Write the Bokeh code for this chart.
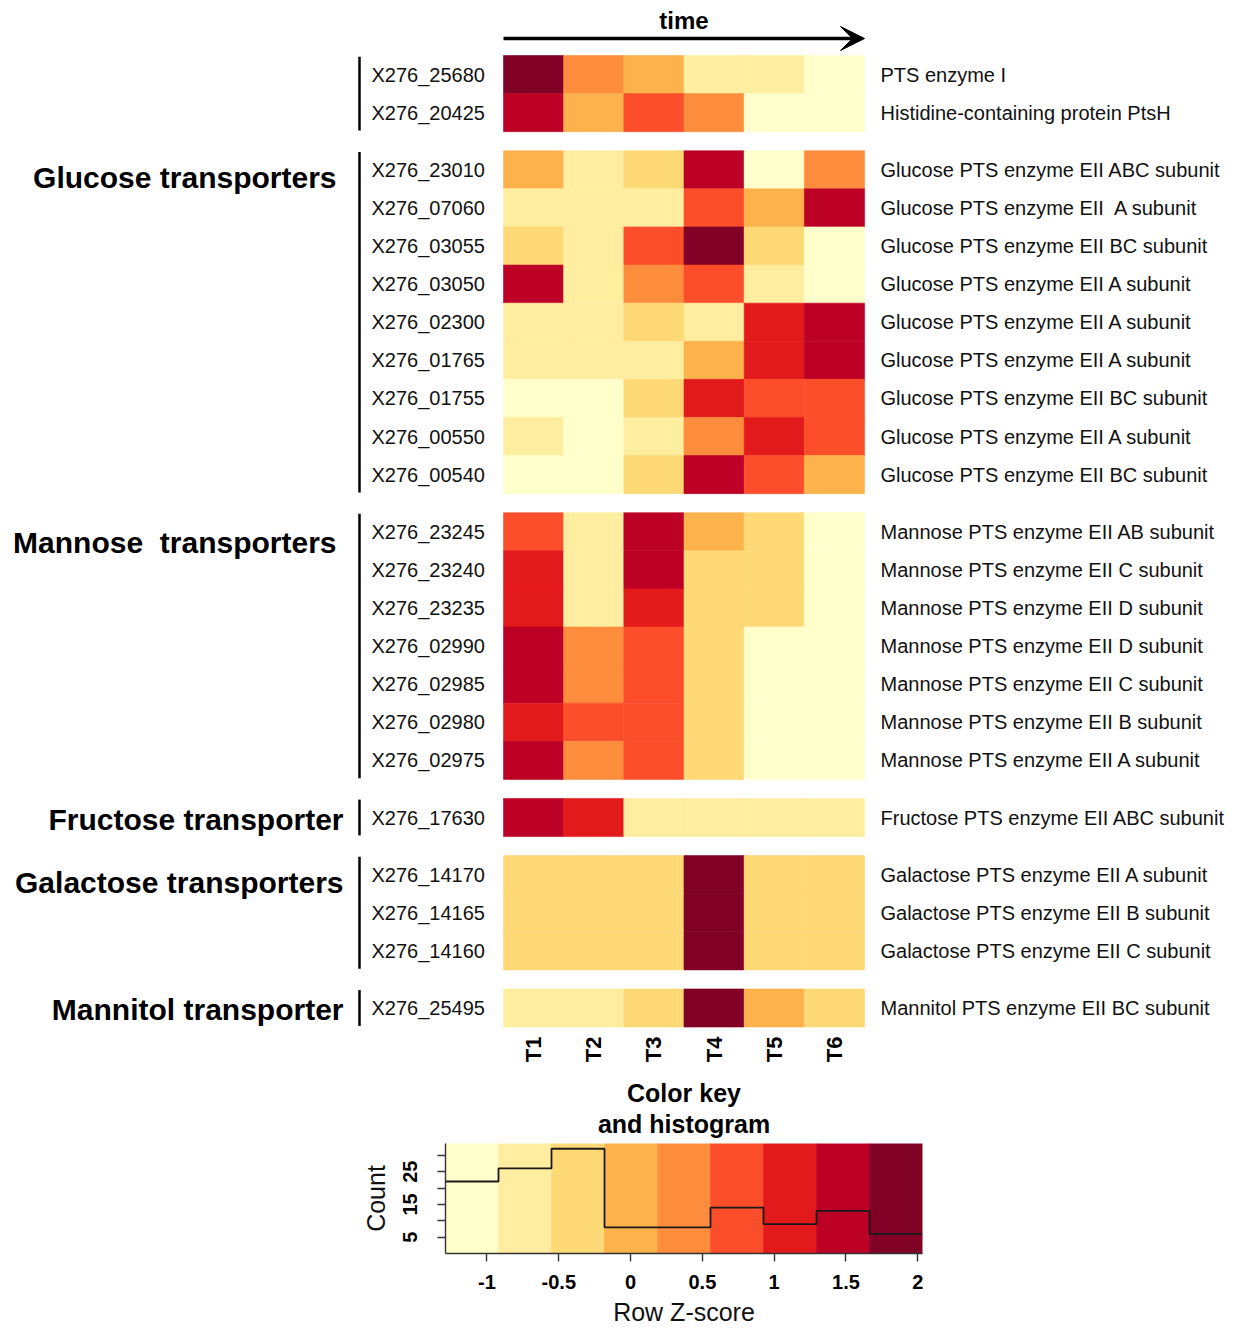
import numpy as np
from bokeh.plotting import figure
from bokeh.models import Range1d, Arrow, VeeHead, FixedTicker, CustomJSTickFormatter, ColumnDataSource
from bokeh.transform import linear_cmap
from bokeh.palettes import YlOrRd
from bokeh.embed import file_html
from bokeh.resources import INLINE
from bokeh.core.properties import value

FONT = value("Liberation Sans")

# ---------------- data ----------------
time_points = ["T1", "T2", "T3", "T4", "T5", "T6"]
group_labels = ["", "Glucose transporters", "Mannose\u00a0 transporters",
                "Fructose transporter", "Galactose transporters", "Mannitol transporter"]

ids_pts = ["X276_25680", "X276_20425"]
ann_pts = ["PTS enzyme I", "Histidine-containing protein PtsH"]
z_pts = [[1.85, 0.38, 0.02, -0.72, -0.78, -1.12],
         [1.48, 0.01, 0.76, 0.39, -1.10, -1.12]]

ids_glucose = ["X276_23010", "X276_07060", "X276_03055", "X276_03050", "X276_02300",
               "X276_01765", "X276_01755", "X276_00550", "X276_00540"]
ann_glucose = ["Glucose PTS enzyme EII ABC subunit", "Glucose PTS enzyme EII\u00a0 A subunit",
               "Glucose PTS enzyme EII BC subunit", "Glucose PTS enzyme EII A subunit",
               "Glucose PTS enzyme EII A subunit", "Glucose PTS enzyme EII A subunit",
               "Glucose PTS enzyme EII BC subunit", "Glucose PTS enzyme EII A subunit",
               "Glucose PTS enzyme EII BC subunit"]
z_glucose = [[0.00, -0.74, -0.38, 1.50, -1.10, 0.40],
             [-0.74, -0.76, -0.72, 0.78, 0.02, 1.46],
             [-0.36, -0.74, 0.74, 1.86, -0.40, -1.10],
             [1.50, -0.76, 0.38, 0.74, -0.74, -1.12],
             [-0.75, -0.77, -0.38, -0.72, 1.12, 1.48],
             [-0.78, -0.76, -0.74, 0.02, 1.10, 1.50],
             [-1.12, -1.10, -0.36, 1.12, 0.76, 0.74],
             [-0.74, -1.10, -0.72, 0.40, 1.12, 0.78],
             [-1.12, -1.10, -0.36, 1.50, 0.74, 0.02]]

ids_mannose = ["X276_23245", "X276_23240", "X276_23235", "X276_02990", "X276_02985",
               "X276_02980", "X276_02975"]
ann_mannose = ["Mannose PTS enzyme EII AB subunit", "Mannose PTS enzyme EII C subunit",
               "Mannose PTS enzyme EII D subunit", "Mannose PTS enzyme EII D subunit",
               "Mannose PTS enzyme EII C subunit", "Mannose PTS enzyme EII B subunit",
               "Mannose PTS enzyme EII A subunit"]
z_mannose = [[0.76, -0.74, 1.48, 0.02, -0.38, -1.12],
             [1.10, -0.76, 1.46, -0.36, -0.38, -1.10],
             [1.12, -0.74, 1.10, -0.38, -0.36, -1.12],
             [1.48, 0.38, 0.76, -0.36, -1.10, -1.12],
             [1.50, 0.40, 0.74, -0.38, -1.12, -1.10],
             [1.10, 0.76, 0.74, -0.36, -1.10, -1.12],
             [1.48, 0.38, 0.76, -0.38, -1.12, -1.10]]

ids_fructose = ["X276_17630"]
ann_fructose = ["Fructose PTS enzyme EII ABC subunit"]
z_fructose = [[1.48, 1.10, -0.74, -0.74, -0.76, -0.74]]

ids_galactose = ["X276_14170", "X276_14165", "X276_14160"]
ann_galactose = ["Galactose PTS enzyme EII A subunit", "Galactose PTS enzyme EII B subunit",
                 "Galactose PTS enzyme EII C subunit"]
z_galactose = [[-0.38, -0.38, -0.38, 1.86, -0.38, -0.38],
               [-0.38, -0.38, -0.38, 1.86, -0.38, -0.38],
               [-0.38, -0.38, -0.38, 1.86, -0.38, -0.38]]

ids_mannitol = ["X276_25495"]
ann_mannitol = ["Mannitol PTS enzyme EII BC subunit"]
z_mannitol = [[-0.74, -0.76, -0.38, 1.86, 0.02, -0.36]]

key_low, key_high = -1.289, 2.033
key_ticks = [-1, -0.5, 0, 0.5, 1, 1.5, 2]
count_ticks = [5, 15, 25]
count_minor = [10, 20, 30]
palette = list(YlOrRd[9])[::-1]

groups = [(ids_pts, ann_pts, z_pts), (ids_glucose, ann_glucose, z_glucose),
          (ids_mannose, ann_mannose, z_mannose), (ids_fructose, ann_fructose, z_fructose),
          (ids_galactose, ann_galactose, z_galactose), (ids_mannitol, ann_mannitol, z_mannitol)]

# ---------------- layout helpers (pixels -> data units) ----------------
W1, H1 = 1250, 1140
PX_COL, PX_ROW = 60.17, 38.1
X0, Y0 = 503, 55          # canvas position of heatmap top-left corner
GAP = 0.5                 # gap between groups, in rows

def dx(px):
    return (px - X0) / PX_COL

def dy(py):
    return (py - Y0) / PX_ROW

# ---------------- build the heatmap table ----------------
cx, cy, cz = [], [], []
lab_y, lab_id, lab_ann = [], [], []
bars_y0, bars_y1 = [], []
glab_y, glab_t, glab_x = [], [], []
label_dy = [0, 0.2, 0.28, 0.05, 0.2, 0.05]
label_px = [336, 336, 336, 343, 343, 343]
i = 0
for g, (ids, anns, zs) in enumerate(groups):
    top0 = i + GAP * g
    for k, row in enumerate(zs):
        top = i + GAP * g
        for j, v in enumerate(row):
            cx.append(j + 0.5)
            cy.append(top + 0.5)
            cz.append(v)
        lab_y.append(top + 0.5)
        lab_id.append(ids[k])
        lab_ann.append(anns[k])
        i += 1
    bars_y0.append(top0 + 0.03)
    bars_y1.append(i + GAP * g - 0.03)
    if group_labels[g]:
        glab_y.append(top0 + 0.5 + label_dy[g])
        glab_t.append(group_labels[g])
        glab_x.append(dx(label_px[g]))
n_rows_total = i + GAP * (len(groups) - 1)

src = ColumnDataSource(dict(x=cx, y=cy, z=cz))
cmap = linear_cmap("z", palette, low=key_low, high=key_high)

p1 = figure(width=W1, height=H1, output_backend="svg", toolbar_location=None,
            x_range=Range1d(-X0 / PX_COL, (W1 - X0) / PX_COL),
            y_range=Range1d((H1 - Y0) / PX_ROW, -Y0 / PX_ROW),
            x_axis_location=None, y_axis_location=None, min_border=0,
            outline_line_color=None)
p1.grid.visible = False

p1.rect(x="x", y="y", width=1, height=1, source=src, fill_color=cmap,
        line_color=cmap, line_width=0.6)

# gene ids
p1.text(x=[dx(371)] * len(lab_y), y=lab_y, text=lab_id, text_font=FONT,
        text_font_size="20px", text_align="left", text_baseline="middle", text_color="#111111")
# annotations
p1.text(x=[dx(880)] * len(lab_y), y=lab_y, text=lab_ann, text_font=FONT,
        text_font_size="20px", text_align="left", text_baseline="middle", text_color="#111111")
# group bars
p1.segment(x0=[dx(359)] * len(bars_y0), y0=bars_y0, x1=[dx(359)] * len(bars_y0), y1=bars_y1,
           line_color="black", line_width=2.5)
# group labels
p1.text(x=glab_x, y=glab_y, text=glab_t, text_font=FONT, text_font_size="30px",
        text_font_style="bold", text_align="right", text_baseline="middle", text_color="black")
# column labels
p1.text(x=[j + 0.5 for j in range(len(time_points))], y=[n_rows_total + 0.25] * len(time_points),
        text=time_points, angle=np.pi / 2, text_font=FONT, text_font_size="22px",
        text_font_style="bold", text_align="right", text_baseline="middle", text_color="black")
# time arrow
p1.text(x=[len(time_points) / 2], y=[dy(20)], text=["time"], text_font=FONT,
        text_font_size="24px", text_font_style="bold", text_align="center",
        text_baseline="middle", text_color="black")
p1.add_layout(Arrow(end=VeeHead(size=24, fill_color="black", line_color="black", line_width=1),
                    x_start=0, y_start=dy(38), x_end=len(time_points), y_end=dy(38),
                    line_width=3.5, line_color="black"))
# colour key title
p1.text(x=[len(time_points) / 2] * 2, y=[dy(1092), dy(1123)],
        text=["Color key", "and histogram"], text_font=FONT, text_font_size="25px",
        text_font_style="bold", text_align="center", text_baseline="middle", text_color="black")

# ---------------- colour key and histogram ----------------
edges = np.linspace(key_low, key_high, len(palette) + 1)
counts, _ = np.histogram(np.asarray(cz), bins=edges)
y_top = 33.6

KEY_LEFT, KEY_W = 445, 477
p2 = figure(width=W1, height=3 + 110 + 77, output_backend="svg", toolbar_location=None,
            x_range=Range1d(key_low, key_high), y_range=Range1d(0, y_top),
            min_border_left=KEY_LEFT, min_border_right=W1 - KEY_LEFT - KEY_W,
            min_border_top=3, min_border_bottom=77, outline_line_color=None)
p2.grid.visible = False
p2.quad(left=edges[:-1], right=edges[1:], bottom=0, top=y_top, fill_color=palette,
        line_color=palette, line_width=0.6)
p2.step(x=edges, y=np.append(counts, counts[-1]), mode="after", line_color="#1a1a1a",
        line_width=1.8)

xa = p2.xaxis[0]
xa.ticker = FixedTicker(ticks=key_ticks)
xa.formatter = CustomJSTickFormatter(code="return tick.toString();")
xa.axis_label = "Row Z-score"
ya = p2.yaxis[0]
ya.ticker = FixedTicker(ticks=count_ticks, minor_ticks=count_minor)
ya.axis_label = "Count"
ya.major_label_orientation = "vertical"
for ax in (xa, ya):
    ax.major_label_text_font = "Liberation Sans"
    ax.major_label_text_font_size = "20px"
    ax.major_label_text_font_style = "bold"
    ax.major_label_text_color = "black"
    ax.axis_label_text_font = "Liberation Sans"
    ax.axis_label_text_font_size = "25px"
    ax.axis_label_text_font_style = "normal"
    ax.axis_label_text_color = "#111111"
    ax.axis_line_color = "#333333"
    ax.axis_line_width = 1.4
    ax.major_tick_line_color = "#333333"
    ax.major_tick_line_width = 1.4
    ax.minor_tick_line_color = "#333333"
    ax.minor_tick_line_width = 1.4
    ax.major_tick_out = 8
    ax.major_tick_in = 0
    ax.minor_tick_out = 8
    ax.minor_tick_in = 0
xa.major_label_standoff = 13
xa.axis_label_standoff = 6
ya.major_label_standoff = 20
ya.axis_label_standoff = 11

open("out.html", "w").write(file_html([p1, p2], INLINE))
